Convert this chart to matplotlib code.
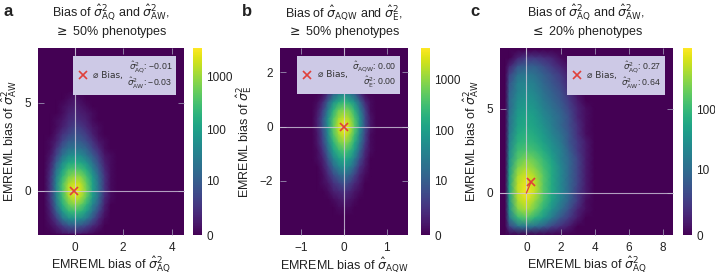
import numpy as np
import matplotlib
matplotlib.use("Agg")
import matplotlib.pyplot as plt
from matplotlib.colors import Normalize
from matplotlib.offsetbox import (AnchoredOffsetbox, HPacker, VPacker,
                                  TextArea, DrawingArea)
from matplotlib.lines import Line2D

plt.rcParams['font.family'] = ['Liberation Sans', 'DejaVu Sans']
plt.rcParams['mathtext.fontset'] = 'dejavusans'

# ---------------- data (log10(1 + count) per grid cell) -------------
# Panel a: x centres, y centres (top row first)
a_x = [-1.25, -1.0, -0.75, -0.5, -0.25, 0.0, 0.25, 0.5, 0.75, 1.0, 1.25, 1.5, 1.75]
a_y = [5.6, 5.2, 4.8, 4.4, 4.0, 3.6, 3.2, 2.8, 2.4, 2.0, 1.6, 1.2, 0.8, 0.4, 0.0,
       -0.4, -0.8, -1.2, -1.6, -2.0, -2.4]
a_logcount = [
    [0, 0, 0, 0, 0, 0.1, 0, 0, 0, 0, 0, 0, 0],
    [0, 0, 0, 0, 0.1, 0.2, 0.1, 0, 0, 0, 0, 0, 0],
    [0, 0, 0, 0.1, 0.2, 0.3, 0.2, 0.1, 0, 0, 0, 0, 0],
    [0, 0, 0, 0.1, 0.3, 0.4, 0.3, 0.2, 0.1, 0, 0, 0, 0],
    [0, 0, 0.1, 0.2, 0.4, 0.5, 0.4, 0.3, 0.1, 0, 0, 0, 0],
    [0, 0, 0.1, 0.3, 0.5, 0.7, 0.6, 0.4, 0.2, 0.1, 0, 0, 0],
    [0, 0, 0.2, 0.5, 0.7, 0.9, 0.8, 0.6, 0.3, 0.1, 0, 0, 0],
    [0, 0.1, 0.3, 0.7, 1.0, 1.1, 1.0, 0.8, 0.5, 0.2, 0.1, 0, 0],
    [0, 0.1, 0.5, 1.0, 1.3, 1.4, 1.3, 1.1, 0.7, 0.4, 0.1, 0, 0],
    [0, 0.2, 0.7, 1.3, 1.7, 1.8, 1.7, 1.4, 1.0, 0.6, 0.2, 0.1, 0],
    [0, 0.3, 1.0, 1.7, 2.1, 2.2, 2.1, 1.8, 1.3, 0.8, 0.3, 0.1, 0],
    [0, 0.4, 1.3, 2.0, 2.5, 2.6, 2.5, 2.2, 1.6, 1.0, 0.4, 0.1, 0],
    [0, 0.5, 1.5, 2.3, 2.8, 3.0, 2.9, 2.5, 1.9, 1.2, 0.5, 0.1, 0],
    [0, 0.5, 1.6, 2.5, 3.1, 3.3, 3.2, 2.7, 2.0, 1.3, 0.5, 0.1, 0],
    [0, 0.5, 1.6, 2.5, 3.2, 3.5, 3.3, 2.8, 2.0, 1.3, 0.5, 0.1, 0],
    [0, 0.5, 1.5, 2.4, 3.0, 3.3, 3.1, 2.6, 1.9, 1.2, 0.4, 0.1, 0],
    [0, 0.4, 1.3, 2.2, 2.7, 2.9, 2.7, 2.3, 1.6, 1.0, 0.3, 0, 0],
    [0, 0.3, 1.0, 1.8, 2.3, 2.4, 2.3, 1.9, 1.3, 0.7, 0.2, 0, 0],
    [0, 0.2, 0.6, 1.3, 1.7, 1.8, 1.7, 1.4, 0.9, 0.4, 0.1, 0, 0],
    [0, 0.1, 0.3, 0.6, 0.9, 1.0, 0.9, 0.7, 0.4, 0.2, 0, 0, 0],
    [0, 0, 0.1, 0.2, 0.3, 0.3, 0.3, 0.2, 0.1, 0, 0, 0, 0],
]

# Panel b
b_x = [-0.75, -0.625, -0.5, -0.375, -0.25, -0.125, 0.0, 0.125, 0.25, 0.375, 0.5, 0.625, 0.75]
b_y = [2.1, 1.8, 1.5, 1.2, 0.9, 0.6, 0.3, 0.0, -0.3, -0.6, -0.9, -1.2, -1.5, -1.8,
       -2.1, -2.4, -2.7, -3.0, -3.3]
b_logcount = [
    [0, 0, 0, 0, 0, 0, 0.1, 0, 0, 0, 0, 0, 0],
    [0, 0, 0, 0, 0.1, 0.2, 0.3, 0.2, 0.1, 0, 0, 0, 0],
    [0, 0, 0, 0.1, 0.4, 0.7, 0.8, 0.7, 0.4, 0.1, 0, 0, 0],
    [0, 0, 0.1, 0.5, 1.1, 1.5, 1.7, 1.5, 1.1, 0.5, 0.1, 0, 0],
    [0, 0.1, 0.4, 1.1, 1.8, 2.2, 2.4, 2.2, 1.8, 1.1, 0.4, 0.1, 0],
    [0, 0.2, 0.7, 1.5, 2.3, 2.8, 2.9, 2.8, 2.3, 1.5, 0.7, 0.1, 0],
    [0, 0.3, 0.9, 1.8, 2.6, 3.1, 3.3, 3.1, 2.6, 1.8, 0.8, 0.2, 0],
    [0, 0.3, 0.9, 1.8, 2.7, 3.3, 3.6, 3.3, 2.7, 1.8, 0.8, 0.2, 0],
    [0, 0.2, 0.8, 1.7, 2.6, 3.1, 3.4, 3.1, 2.5, 1.6, 0.7, 0.1, 0],
    [0, 0.2, 0.7, 1.5, 2.3, 2.8, 3.0, 2.8, 2.2, 1.4, 0.6, 0.1, 0],
    [0, 0.1, 0.5, 1.2, 2.0, 2.4, 2.6, 2.4, 1.9, 1.1, 0.4, 0.1, 0],
    [0, 0.1, 0.3, 0.9, 1.6, 2.0, 2.2, 2.0, 1.5, 0.8, 0.3, 0, 0],
    [0, 0, 0.2, 0.6, 1.2, 1.6, 1.8, 1.6, 1.1, 0.5, 0.2, 0, 0],
    [0, 0, 0.1, 0.4, 0.8, 1.1, 1.3, 1.1, 0.7, 0.3, 0.1, 0, 0],
    [0, 0, 0.1, 0.2, 0.5, 0.7, 0.9, 0.7, 0.4, 0.2, 0, 0, 0],
    [0, 0, 0, 0.1, 0.3, 0.4, 0.5, 0.4, 0.2, 0.1, 0, 0, 0],
    [0, 0, 0, 0, 0.1, 0.2, 0.3, 0.2, 0.1, 0, 0, 0, 0],
    [0, 0, 0, 0, 0, 0.1, 0.1, 0.1, 0, 0, 0, 0, 0],
    [0, 0, 0, 0, 0, 0, 0, 0, 0, 0, 0, 0, 0],
]

# Panel c
c_x = [-1.25, -1.0, -0.5, 0.0, 0.5, 1.0, 1.5, 2.0, 2.5, 3.0, 3.5, 4.0, 4.5]
c_y = [8.5, 8.0, 7.5, 7.0, 6.5, 6.0, 5.5, 5.0, 4.5, 4.0, 3.5, 3.0, 2.5, 2.0, 1.5,
       1.0, 0.5, 0.0, -0.5, -1.0, -1.5, -2.0, -2.5]
c_logcount = [
    [0, 0, 0, 0, 0, 0, 0, 0, 0, 0, 0, 0, 0],
    [0, 0, 0.3, 0.5, 0.5, 0.4, 0.3, 0.1, 0, 0, 0, 0, 0],
    [0, 0.3, 0.8, 0.9, 0.9, 0.7, 0.5, 0.3, 0.1, 0, 0, 0, 0],
    [0, 0.6, 1.1, 1.2, 1.1, 0.9, 0.7, 0.5, 0.2, 0, 0, 0, 0],
    [0, 0.8, 1.3, 1.35, 1.25, 1.0, 0.8, 0.6, 0.3, 0.1, 0, 0, 0],
    [0, 0.9, 1.35, 1.45, 1.35, 1.1, 0.9, 0.7, 0.4, 0.1, 0, 0, 0],
    [0, 1.0, 1.45, 1.55, 1.45, 1.2, 1.0, 0.8, 0.5, 0.2, 0, 0, 0],
    [0, 1.0, 1.55, 1.65, 1.55, 1.3, 1.1, 0.9, 0.6, 0.3, 0.1, 0, 0],
    [0, 1.1, 1.65, 1.75, 1.65, 1.4, 1.2, 1.0, 0.7, 0.3, 0.1, 0, 0],
    [0, 1.1, 1.7, 1.8, 1.7, 1.5, 1.25, 1.0, 0.7, 0.4, 0.1, 0, 0],
    [0, 1.2, 1.8, 1.9, 1.8, 1.6, 1.35, 1.1, 0.8, 0.4, 0.1, 0, 0],
    [0, 1.3, 1.9, 2.0, 1.9, 1.7, 1.45, 1.2, 0.8, 0.5, 0.2, 0, 0],
    [0, 1.4, 2.05, 2.15, 2.05, 1.85, 1.55, 1.3, 0.9, 0.5, 0.2, 0, 0],
    [0, 1.5, 2.2, 2.4, 2.25, 2.0, 1.7, 1.3, 1.0, 0.6, 0.2, 0, 0],
    [0, 1.6, 2.4, 2.6, 2.4, 2.1, 1.8, 1.4, 1.0, 0.6, 0.2, 0, 0],
    [0, 1.7, 2.6, 2.8, 2.6, 2.2, 1.8, 1.4, 1.0, 0.6, 0.2, 0, 0],
    [0, 1.7, 2.7, 2.9, 2.7, 2.2, 1.8, 1.4, 1.0, 0.6, 0.2, 0, 0],
    [0, 1.7, 2.7, 2.95, 2.7, 2.2, 1.8, 1.4, 1.0, 0.5, 0.2, 0, 0],
    [0, 1.6, 2.6, 2.8, 2.5, 2.1, 1.7, 1.3, 0.9, 0.5, 0.1, 0, 0],
    [0, 1.5, 2.4, 2.6, 2.3, 1.9, 1.5, 1.1, 0.7, 0.3, 0.1, 0, 0],
    [0, 1.2, 2.0, 2.2, 1.9, 1.6, 1.2, 0.8, 0.5, 0.2, 0, 0, 0],
    [0, 0.6, 1.1, 1.2, 1.1, 0.9, 0.6, 0.4, 0.2, 0, 0, 0, 0],
    [0, 0, 0, 0, 0, 0, 0, 0, 0, 0, 0, 0, 0],
]

# mean bias values
a_mean = (-0.01, -0.03)
b_mean = (0.00, 0.00)
c_mean = (0.27, 0.64)

cbar_ticks = [0, 10, 100, 1000]
cbar_max = [3.55, 3.6, 2.98]   # log10(1 + max count)

titles = [r"Bias of $\hat{\sigma}^2_{\mathrm{AQ}}$ and $\hat{\sigma}^2_{\mathrm{AW}}$," "\n" r"$\geq$ 50% phenotypes",
          r"Bias of $\hat{\sigma}_{\mathrm{AQW}}$ and $\hat{\sigma}^2_{\mathrm{E}}$," "\n" r"$\geq$ 50% phenotypes",
          r"Bias of $\hat{\sigma}^2_{\mathrm{AQ}}$ and $\hat{\sigma}^2_{\mathrm{AW}}$," "\n" r"$\leq$ 20% phenotypes"]
xlabels = [r"EMREML bias of $\hat{\sigma}^2_{\mathrm{AQ}}$",
           r"EMREML bias of $\hat{\sigma}_{\mathrm{AQW}}$",
           r"EMREML bias of $\hat{\sigma}^2_{\mathrm{AQ}}$"]
ylabels = [r"EMREML bias of $\hat{\sigma}^2_{\mathrm{AW}}$",
           r"EMREML bias of $\hat{\sigma}^2_{\mathrm{E}}$",
           r"EMREML bias of $\hat{\sigma}^2_{\mathrm{AW}}$"]
leg_names = [(r"$\hat{\sigma}^2_{\mathrm{AQ}}$", r"$\hat{\sigma}^2_{\mathrm{AW}}$"),
             (r"$\hat{\sigma}_{\mathrm{AQW}}$", r"$\hat{\sigma}^2_{\mathrm{E}}$"),
             (r"$\hat{\sigma}^2_{\mathrm{AQ}}$", r"$\hat{\sigma}^2_{\mathrm{AW}}$")]
panel_letters = ["a", "b", "c"]

xlims = [(-1.5, 4.5), (-1.5, 1.5), (-1.55, 8.6)]
ylims = [(-2.5, 8.1), (-4.0, 2.9), (-2.5, 8.6)]
xticks = [[0, 2, 4], [-1, 0, 1], [0, 2, 4, 6, 8]]
yticks = [[0, 5], [-2, 0, 2], [0, 5]]

# ---------------- figure -----------------
W, H = 715, 275
fig = plt.figure(figsize=(W / 100, H / 100), dpi=100)

def fx(px):
    return px / W

def fy(py):
    return 1 - py / H

ax_px = [(38, 184), (280, 408), (500, 673)]
cb_px = [(193, 202), (421, 430), (683, 692)]
top_px, bot_px = 48, 235
letter_px = [3, 242, 470]

cmap = plt.get_cmap('viridis')
bg = cmap(0.0)
txtc = '#222222'

datasets = [(a_x, a_y, a_logcount, a_mean),
            (b_x, b_y, b_logcount, b_mean),
            (c_x, c_y, c_logcount, c_mean)]

for i, (gx, gy, gz, mean) in enumerate(datasets):
    l, r = ax_px[i]
    ax = fig.add_axes([fx(l), fy(bot_px), fx(r - l), (bot_px - top_px) / H])
    ax.set_facecolor(bg)
    gx = np.asarray(gx); gy = np.asarray(gy); gz = np.asarray(gz, dtype=float)
    norm = Normalize(0, cbar_max[i])
    ax.pcolormesh(gx, gy, gz, shading='gouraud', cmap=cmap, norm=norm, zorder=1)
    ax.axhline(0, color='#cfc8dc', lw=0.8, alpha=0.8, zorder=2)
    ax.axvline(0, color='#cfc8dc', lw=0.8, alpha=0.8, zorder=2)
    ax.plot([0, mean[0]], [0, mean[1]], color='#e0403a', lw=0.9, zorder=3)
    ax.plot([mean[0]], [mean[1]], marker='x', color='#e0403a', ms=6, mew=1.2,
            ls='none', zorder=4)
    ax.set_xlim(*xlims[i]); ax.set_ylim(*ylims[i])
    ax.set_xticks(xticks[i]); ax.set_yticks(yticks[i])
    ax.tick_params(direction='in', top=True, right=True, length=4, width=0.6,
                   color='#9a8fb0', labelsize=8.5, pad=5, labelcolor=txtc)
    for s in ax.spines.values():
        s.set_visible(False)
    ax.set_xlabel(xlabels[i], fontsize=9, labelpad=1, color=txtc)
    ax.set_ylabel(ylabels[i], fontsize=9, labelpad=4, color=txtc)
    ax.set_title(titles[i], fontsize=9, pad=9, linespacing=1.15, color=txtc)

    # legend box
    da = DrawingArea(9, 8, 0, 0)
    da.add_artist(Line2D([4.5], [4], marker='x', color='#e0403a', ms=6, mew=1.2, ls='none'))
    t1 = TextArea("\u2300 Bias,", textprops=dict(fontsize=6.5, color='#333333',
                                                  family=['DejaVu Sans']))
    n1, n2 = leg_names[i]
    v1 = ("%.2f" % mean[0]).replace('-', '\u2212')
    v2 = ("%.2f" % mean[1]).replace('-', '\u2212')
    r1 = TextArea(n1 + ": " + v1, textprops=dict(fontsize=6.3, color='#333333'))
    r2 = TextArea(n2 + ": " + v2, textprops=dict(fontsize=6.3, color='#333333'))
    vp = VPacker(children=[r1, r2], align='right', pad=0, sep=0.5)
    hp = HPacker(children=[da, t1, vp], align='center', pad=0, sep=3)
    box = AnchoredOffsetbox(loc='upper right', child=hp, pad=0.3, borderpad=0.55,
                            frameon=True)
    box.patch.set_facecolor('#cdc9e6')
    box.patch.set_edgecolor('none')
    box.patch.set_boxstyle('square', pad=0)
    box.set_zorder(5)
    ax.add_artist(box)

    # colorbar
    cl, cr = cb_px[i]
    cax = fig.add_axes([fx(cl), fy(bot_px), fx(cr - cl), (bot_px - top_px) / H])
    sm = plt.cm.ScalarMappable(norm=norm, cmap=cmap)
    cb = fig.colorbar(sm, cax=cax)
    cb.outline.set_visible(False)
    tv = [t for t in cbar_ticks if np.log10(1 + t) <= cbar_max[i]]
    cb.set_ticks([np.log10(1 + t) for t in tv])
    cb.set_ticklabels([str(t) for t in tv])
    cax.tick_params(length=0, labelsize=8.5, pad=3, labelcolor=txtc)

    fig.text(fx(letter_px[i]), fy(16), panel_letters[i], fontsize=12,
             fontweight='bold', ha='left', va='baseline', color=txtc)

fig.savefig("out.png", dpi=100)
